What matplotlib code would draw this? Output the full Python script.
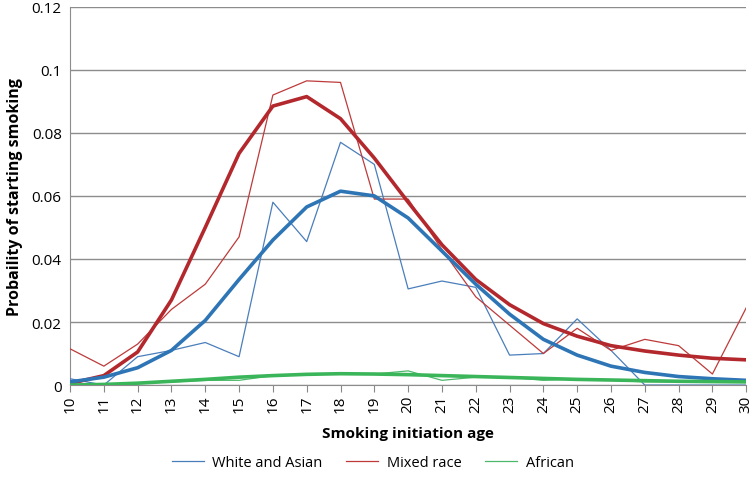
import matplotlib.pyplot as plt

ages = list(range(10, 31))

# observed (thin) and fitted (thick) probabilities
white_asian = [0.002, 0.0, 0.009, 0.011, 0.0135, 0.009, 0.058, 0.0455, 0.077, 0.070, 0.0305,
               0.033, 0.031, 0.0095, 0.010, 0.021, 0.011, 0.0, 0.0, 0.0, 0.0]
white_asian_fit = [0.001, 0.0025, 0.0055, 0.011, 0.0205, 0.0335, 0.046, 0.0565, 0.0615, 0.060, 0.053,
                   0.0425, 0.032, 0.0225, 0.0145, 0.0095, 0.006, 0.004, 0.0027, 0.002, 0.0015]
mixed = [0.0115, 0.006, 0.013, 0.024, 0.032, 0.047, 0.092, 0.0965, 0.096, 0.059, 0.059,
         0.043, 0.028, 0.019, 0.010, 0.018, 0.011, 0.0145, 0.0125, 0.0035, 0.0245]
mixed_fit = [0.0005, 0.003, 0.0105, 0.027, 0.050, 0.0735, 0.0885, 0.0915, 0.0845, 0.072, 0.058,
             0.0445, 0.0335, 0.0255, 0.0195, 0.0155, 0.0125, 0.0108, 0.0095, 0.0085, 0.008]
african = [0.0, 0.0, 0.0005, 0.001, 0.0015, 0.0015, 0.003, 0.0035, 0.0035, 0.0035, 0.0045,
           0.0015, 0.0025, 0.0025, 0.0015, 0.002, 0.0015, 0.001, 0.001, 0.001, 0.001]
african_fit = [0.0, 0.0002, 0.0006, 0.0012, 0.0018, 0.0025, 0.003, 0.0034, 0.0036, 0.0035, 0.0033,
               0.003, 0.0027, 0.0024, 0.0021, 0.0018, 0.0016, 0.0014, 0.0012, 0.0011, 0.001]

plt.rcParams['font.family'] = ['Open Sans', 'DejaVu Sans']

fig = plt.figure(figsize=(7.53, 4.85), dpi=100)
ax = fig.add_axes([0.093, 0.204, 0.898, 0.78])

ax.plot(ages, white_asian, color='#4A7EBB', lw=0.9, label='White and Asian', zorder=3)
ax.plot(ages, mixed, color='#BE3A3A', lw=0.9, label='Mixed race', zorder=3)
ax.plot(ages, african, color='#4DB86B', lw=0.9, label='African', zorder=3)
ax.plot(ages, mixed_fit, color='#B3282D', lw=2.6, zorder=4)
ax.plot(ages, white_asian_fit, color='#2E75B6', lw=2.6, zorder=4)
ax.plot(ages, african_fit, color='#3BB55A', lw=2.6, zorder=4)

ax.set_xlim(10, 30)
ax.set_ylim(0, 0.12)
ax.set_xticks(ages)
ax.set_xticklabels([str(a) for a in ages], rotation=90, fontsize=11)
ax.set_yticks([0, 0.02, 0.04, 0.06, 0.08, 0.1, 0.12])
ax.set_yticklabels(['0', '0.02', '0.04', '0.06', '0.08', '0.1', '0.12'], fontsize=11)
ax.tick_params(axis='y', length=0, pad=6)
ax.tick_params(axis='x', length=5, color='#888888', direction='out', pad=2)
ax.yaxis.grid(True, color='#8C8C8C', lw=1)
ax.set_axisbelow(True)
for s in ['top', 'right']:
    ax.spines[s].set_visible(False)
for s in ['left', 'bottom']:
    ax.spines[s].set_color('#8C8C8C')

ax.set_xlabel('Smoking initiation age', fontsize=11, fontweight='bold', labelpad=10)
ax.set_ylabel('Probaility of starting smoking', fontsize=11.5, fontweight='bold', labelpad=6)

fig.legend(loc='center', bbox_to_anchor=(0.495, 0.045), ncol=3, frameon=False,
           fontsize=10.5, handlelength=2.2, columnspacing=1.6, handletextpad=0.6)

fig.savefig('out.png', dpi=100)
